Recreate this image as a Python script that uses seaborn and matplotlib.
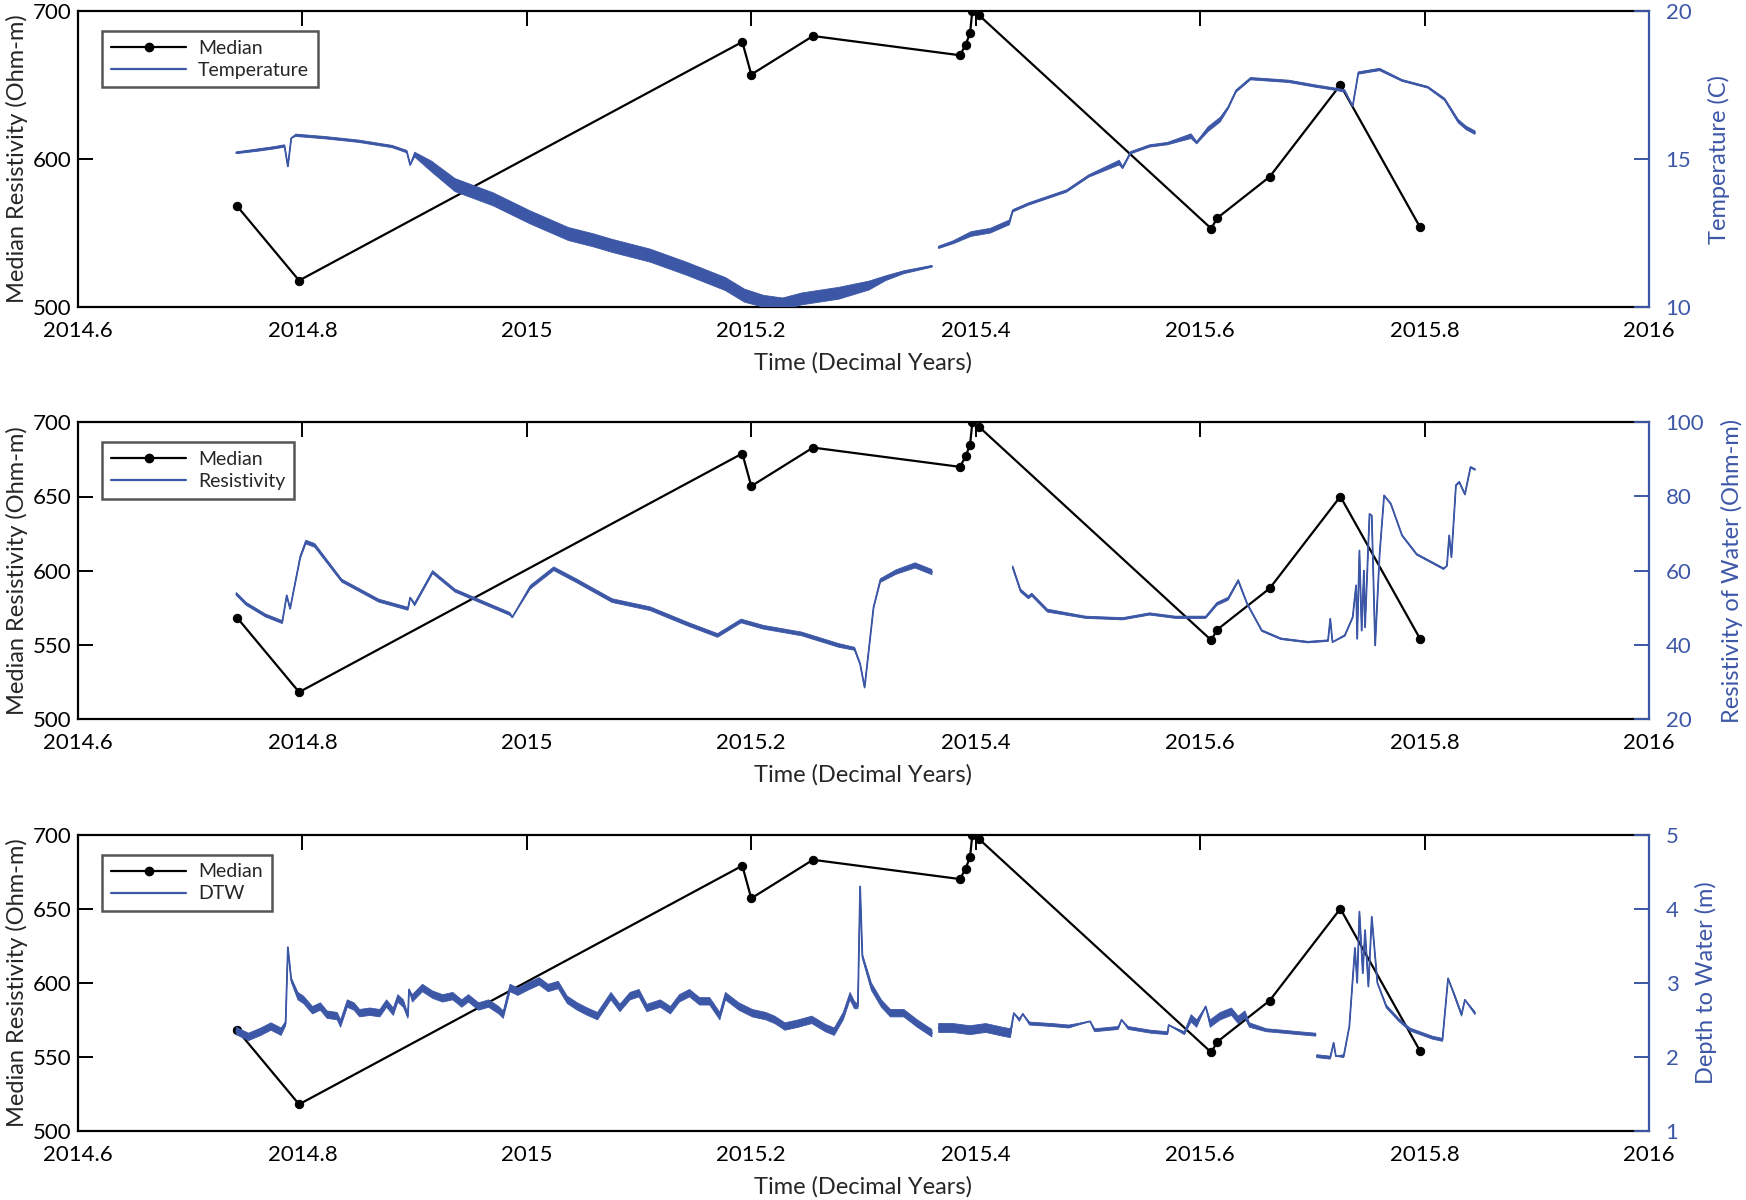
import numpy as np
import matplotlib
matplotlib.use("Agg")
import matplotlib.pyplot as plt
import seaborn as sns
from matplotlib.lines import Line2D

# Median resistivity (shared by all three panels)
med_t = [2014.742, 2014.797, 2015.192, 2015.200, 2015.255, 2015.386, 2015.391,
         2015.395, 2015.397, 2015.403, 2015.610, 2015.615, 2015.662, 2015.725, 2015.796]
med_r = [568, 518, 679, 657, 683, 670, 677, 685, 700, 697, 553, 560, 588, 650, 554]

nan = np.nan

# Temperature (C): x, value, half-width of the noise band
temp_x = [2014.741, 2014.760, 2014.775, 2014.784, 2014.787, 2014.790, 2014.794, 2014.820,
          2014.850, 2014.880, 2014.893, 2014.896, 2014.900, 2014.915, 2014.936, 2014.970,
          2015.003, 2015.037, 2015.060, 2015.076, 2015.110, 2015.143, 2015.177, 2015.194,
          2015.211, 2015.228, 2015.245, 2015.278, 2015.305, 2015.320, 2015.336, 2015.361,
          nan,
          2015.367, 2015.380, 2015.396, 2015.413, 2015.430, 2015.433, 2015.447, 2015.481,
          2015.501, 2015.528, 2015.531, 2015.538, 2015.555, 2015.571, 2015.592, 2015.597,
          2015.607, 2015.618, 2015.625, 2015.632, 2015.645, 2015.679, 2015.703, 2015.723,
          2015.729, 2015.736, 2015.741, 2015.760, 2015.780, 2015.803, 2015.818, 2015.830,
          2015.837, 2015.845]
temp_y = [15.21, 15.30, 15.38, 15.44, 14.75, 15.70, 15.80, 15.72,
          15.60, 15.42, 15.25, 14.80, 15.15, 14.75, 14.12, 13.64,
          13.03, 12.47, 12.25, 12.07, 11.74, 11.29, 10.78, 10.39,
          10.20, 10.11, 10.28, 10.47, 10.73, 10.98, 11.18, 11.38,
          nan,
          12.02, 12.19, 12.47, 12.58, 12.86, 13.25, 13.48, 13.92,
          14.43, 14.88, 14.71, 15.21, 15.44, 15.52, 15.77, 15.55,
          16.00, 16.33, 16.73, 17.29, 17.71, 17.62, 17.46, 17.34,
          17.29, 16.78, 17.90, 18.02, 17.65, 17.42, 17.01, 16.28,
          16.05, 15.89]
temp_s = [0.03, 0.04, 0.04, 0.04, 0, 0, 0.04, 0.04,
          0.04, 0.04, 0.04, 0, 0.08, 0.18, 0.22, 0.22,
          0.22, 0.22, 0.22, 0.22, 0.22, 0.22, 0.22, 0.22,
          0.2, 0.2, 0.2, 0.2, 0.15, 0.08, 0.05, 0.03,
          nan,
          0.04, 0.05, 0.08, 0.08, 0.08, 0.04, 0.04, 0.04,
          0.04, 0.08, 0.04, 0.04, 0.04, 0.04, 0.08, 0.04,
          0.08, 0.08, 0.04, 0.04, 0.04, 0.04, 0.04, 0.04,
          0.04, 0, 0.04, 0.04, 0.03, 0.03, 0.04, 0.06,
          0.06, 0.06]

# Resistivity of water (Ohm-m)
res_x = [2014.741, 2014.750, 2014.767, 2014.782, 2014.786, 2014.789, 2014.798, 2014.803,
         2014.811, 2014.835, 2014.868, 2014.894, 2014.896, 2014.900, 2014.916, 2014.936,
         2014.953, 2014.985, 2014.987, 2015.003, 2015.024, 2015.044, 2015.076, 2015.110,
         2015.143, 2015.170, 2015.191, 2015.211, 2015.245, 2015.278, 2015.292, 2015.297,
         2015.301, 2015.309, 2015.315, 2015.329, 2015.346, 2015.361,
         nan,
         2015.433, 2015.440, 2015.447, 2015.450, 2015.464, 2015.498, 2015.531, 2015.555,
         2015.578, 2015.605, 2015.615, 2015.625, 2015.634, 2015.642, 2015.655, 2015.672,
         2015.696, 2015.714, 2015.716, 2015.718, 2015.729, 2015.736, 2015.739, 2015.740,
         2015.742, 2015.744, 2015.746, 2015.747, 2015.751, 2015.753, 2015.756, 2015.760,
         2015.764, 2015.770, 2015.780, 2015.793, 2015.817, 2015.820, 2015.822, 2015.824,
         2015.828, 2015.831, 2015.836, 2015.841, 2015.845]
res_y = [53.7, 51.0, 47.9, 46.1, 53.3, 49.7, 63.6, 67.7,
         66.8, 57.3, 51.9, 49.7, 52.7, 50.9, 59.6, 54.6,
         52.4, 48.3, 47.4, 55.5, 60.5, 57.3, 51.9, 49.7,
         45.6, 42.5, 46.4, 44.7, 42.9, 39.8, 38.9, 34.8,
         28.5, 50.1, 57.3, 59.6, 61.4, 59.6,
         nan,
         60.9, 54.6, 52.8, 53.5, 49.2, 47.4, 47.0, 48.3,
         47.4, 47.4, 51.0, 52.4, 57.3, 51.0, 43.8, 41.6,
         40.7, 41.1, 47.0, 40.7, 42.5, 47.4, 56.0, 41.6,
         65.4, 43.8, 60.0, 44.7, 75.3, 74.8, 39.8, 64.5,
         80.3, 78.0, 69.5, 64.4, 60.5, 61.3, 69.5, 63.6,
         83.0, 83.9, 80.6, 87.9, 87.3]
res_s = [0.4, 0.4, 0.4, 0.4, 0, 0, 0.4, 0.5,
         0.5, 0.4, 0.4, 0.4, 0, 0.4, 0.4, 0.4,
         0.4, 0.4, 0, 0.5, 0.5, 0.5, 0.5, 0.5,
         0.5, 0.5, 0.5, 0.5, 0.5, 0.5, 0.4, 0.2,
         0.2, 0.2, 0.5, 0.6, 0.7, 0.7,
         nan,
         0.4, 0.4, 0.4, 0.4, 0.4, 0.3, 0.3, 0.3,
         0.3, 0.3, 0.4, 0.4, 0.3, 0.2, 0.2, 0.2,
         0.2, 0.2, 0, 0, 0.2, 0.2, 0, 0,
         0, 0, 0, 0, 0, 0, 0, 0,
         0, 0.2, 0.2, 0.2, 0.2, 0, 0, 0,
         0.2, 0.2, 0.2, 0.2, 0.2]

# Depth to water (m)
dtw_x = [2014.741, 2014.752, 2014.763, 2014.772, 2014.781, 2014.785, 2014.787, 2014.790,
         2014.796, 2014.801, 2014.809, 2014.816, 2014.822, 2014.831, 2014.834, 2014.840,
         2014.846, 2014.851, 2014.860, 2014.869, 2014.875, 2014.881, 2014.885, 2014.890,
         2014.894, 2014.895, 2014.898, 2014.907, 2014.916, 2014.925, 2014.934, 2014.942,
         2014.948, 2014.957, 2014.966, 2014.975, 2014.979, 2014.985, 2014.992, 2015.001,
         2015.011, 2015.019, 2015.028, 2015.036, 2015.045, 2015.054, 2015.063, 2015.075,
         2015.083, 2015.092, 2015.100, 2015.107, 2015.119, 2015.128, 2015.136, 2015.145,
         2015.154, 2015.163, 2015.172, 2015.177, 2015.189, 2015.201, 2015.213, 2015.221,
         2015.230, 2015.242, 2015.254, 2015.266, 2015.274, 2015.282, 2015.288, 2015.292,
         2015.295, 2015.297, 2015.299, 2015.307, 2015.316, 2015.324, 2015.336, 2015.348,
         2015.357, 2015.361,
         nan,
         2015.367, 2015.380, 2015.395, 2015.409, 2015.424, 2015.431, 2015.434, 2015.439,
         2015.442, 2015.448, 2015.468, 2015.483, 2015.502, 2015.506, 2015.527, 2015.530,
         2015.536, 2015.556, 2015.571, 2015.572, 2015.586, 2015.592, 2015.597, 2015.605,
         2015.609, 2015.618, 2015.628, 2015.634, 2015.640, 2015.644, 2015.659, 2015.674,
         2015.688, 2015.703,
         nan,
         2015.704, 2015.716, 2015.719, 2015.721, 2015.728, 2015.733, 2015.738, 2015.740,
         2015.742, 2015.745, 2015.747, 2015.750, 2015.753, 2015.758, 2015.766, 2015.777,
         2015.787, 2015.807, 2015.816, 2015.821, 2015.827, 2015.833, 2015.836, 2015.845]
dtw_y = [2.35, 2.27, 2.34, 2.41, 2.34, 2.45, 3.48, 3.04,
         2.82, 2.77, 2.63, 2.68, 2.57, 2.55, 2.45, 2.72,
         2.68, 2.59, 2.61, 2.59, 2.72, 2.61, 2.79, 2.72,
         2.55, 2.91, 2.79, 2.93, 2.84, 2.79, 2.82, 2.72,
         2.79, 2.68, 2.72, 2.63, 2.57, 2.93, 2.88, 2.95,
         3.02, 2.93, 2.97, 2.77, 2.68, 2.61, 2.55, 2.82,
         2.66, 2.82, 2.86, 2.66, 2.72, 2.63, 2.79, 2.86,
         2.75, 2.75, 2.55, 2.82, 2.68, 2.59, 2.55, 2.50,
         2.41, 2.45, 2.50, 2.39, 2.34, 2.55, 2.82, 2.70,
         2.68, 4.30, 3.36, 2.95, 2.72, 2.59, 2.59, 2.45,
         2.36, 2.32,
         nan,
         2.39, 2.39, 2.36, 2.39, 2.34, 2.32, 2.59, 2.50,
         2.58, 2.45, 2.43, 2.41, 2.48, 2.36, 2.39, 2.50,
         2.39, 2.34, 2.32, 2.43, 2.32, 2.52, 2.45, 2.68,
         2.45, 2.55, 2.61, 2.50, 2.57, 2.43, 2.36, 2.34,
         2.32, 2.30,
         nan,
         2.01, 1.99, 2.19, 2.01, 2.01, 2.41, 3.47, 3.00,
         3.96, 3.13, 3.71, 2.95, 3.89, 3.00, 2.68, 2.50,
         2.37, 2.26, 2.23, 3.06, 2.82, 2.57, 2.77, 2.59]
dtw_s = [0.05, 0.05, 0.05, 0.05, 0.05, 0.03, 0, 0.03,
         0.05, 0.05, 0.05, 0.05, 0.05, 0.05, 0.05, 0.05,
         0.05, 0.05, 0.05, 0.05, 0.05, 0.05, 0.05, 0.05,
         0.03, 0, 0.05, 0.05, 0.05, 0.05, 0.05, 0.05,
         0.05, 0.05, 0.05, 0.05, 0.05, 0.05, 0.05, 0.05,
         0.05, 0.05, 0.05, 0.05, 0.05, 0.05, 0.05, 0.05,
         0.05, 0.05, 0.05, 0.05, 0.05, 0.05, 0.05, 0.05,
         0.05, 0.05, 0.05, 0.05, 0.05, 0.05, 0.05, 0.05,
         0.05, 0.05, 0.05, 0.05, 0.05, 0.05, 0.05, 0.05,
         0.03, 0, 0.03, 0.05, 0.05, 0.05, 0.05, 0.05,
         0.05, 0.05,
         nan,
         0.06, 0.06, 0.06, 0.06, 0.06, 0.06, 0, 0.02,
         0, 0.02, 0.02, 0.02, 0, 0.02, 0.02, 0,
         0.02, 0.02, 0.02, 0, 0.02, 0.05, 0.05, 0,
         0.05, 0.05, 0.05, 0.05, 0.05, 0.03, 0.02, 0.02,
         0.02, 0.02,
         nan,
         0.02, 0.02, 0, 0, 0.02, 0, 0, 0,
         0, 0, 0, 0, 0, 0, 0.02, 0.02,
         0.02, 0.02, 0.02, 0, 0.02, 0.02, 0, 0.02]

x_ticks = [2014.6, 2014.8, 2015.0, 2015.2, 2015.4, 2015.6, 2015.8, 2016.0]
x_labels = ["2014.6", "2014.8", "2015", "2015.2", "2015.4", "2015.6", "2015.8", "2016"]

panels = [
    dict(x=temp_x, y=temp_y, s=temp_s, name="Temperature", ylabel="Temperature (C)",
         lim=(10, 20), ticks=[10, 15, 20], lticks=[500, 600, 700]),
    dict(x=res_x, y=res_y, s=res_s, name="Resistivity", ylabel="Resistivity of Water (Ohm-m)",
         lim=(20, 100), ticks=[20, 40, 60, 80, 100], lticks=[500, 550, 600, 650, 700]),
    dict(x=dtw_x, y=dtw_y, s=dtw_s, name="DTW", ylabel="Depth to Water (m)",
         lim=(1, 5), ticks=[1, 2, 3, 4, 5], lticks=[500, 550, 600, 650, 700]),
]

BLUE = "#3d57a7"

sns.set_style("white")
plt.rcParams["font.family"] = ["Lato", "DejaVu Sans"]

fig = plt.figure(figsize=(17.46, 12), dpi=100)
bottoms = [0.744, 0.401, 0.0575]

for p, b in zip(panels, bottoms):
    ax = fig.add_axes([0.0447, b, 0.8997, 0.247])
    ax2 = ax.twinx()

    # blue series, drawn segment by segment (gaps are NaN)
    x = np.array(p["x"])
    y = np.array(p["y"])
    s = np.array(p["s"])
    ax2.fill_between(x, y - s, y + s, color=BLUE, lw=0.6, edgecolor=BLUE)
    cuts = np.where(np.isnan(x))[0]
    starts = np.r_[0, cuts + 1]
    ends = np.r_[cuts, len(x)]
    for i0, i1 in zip(starts, ends):
        sns.lineplot(x=x[i0:i1], y=y[i0:i1], ax=ax2, color=BLUE, lw=1.3,
                     sort=False, estimator=None)

    # median resistivity
    sns.lineplot(x=med_t, y=med_r, ax=ax, color="black", lw=1.6, marker="o",
                 markersize=6, markeredgecolor="black", sort=False, estimator=None)

    ax.set_xlim(2014.6, 2016)
    ax.set_ylim(500, 700)
    ax.set_xticks(x_ticks)
    ax.set_xticklabels(x_labels)
    ax.set_yticks(p["lticks"])
    ax2.set_ylim(*p["lim"])
    ax2.set_yticks(p["ticks"])

    ax.tick_params(axis="x", direction="in", length=11, width=1.4, top=True,
                   labelsize=16, pad=10, colors="black")
    ax.tick_params(axis="y", direction="in", length=11, width=1.4, labelsize=16,
                   pad=5, colors="black")
    ax2.tick_params(axis="y", direction="in", length=11, width=1.4, labelsize=16,
                    pad=12, colors=BLUE)

    for side in ["left", "top", "bottom"]:
        ax.spines[side].set_linewidth(1.6)
        ax.spines[side].set_color("black")
        ax2.spines[side].set_visible(False)
    ax.spines["right"].set_visible(False)
    ax2.spines["right"].set_color(BLUE)
    ax2.spines["right"].set_linewidth(1.6)

    ax.set_xlabel("Time (Decimal Years)", fontsize=17, labelpad=8)
    ax.set_ylabel("Median Resistivity (Ohm-m)", fontsize=17, labelpad=3)
    ax2.set_ylabel(p["ylabel"], fontsize=17, color=BLUE, labelpad=12)

    handles = [Line2D([], [], color="black", lw=1.6, marker="o", markersize=6),
               Line2D([], [], color=BLUE, lw=1.6)]
    leg = ax2.legend(handles, ["Median", p["name"]], loc="upper left",
                     bbox_to_anchor=(0.009, 0.965), fontsize=14, frameon=True,
                     fancybox=False, framealpha=1, edgecolor="#555555",
                     handlelength=3.9, borderpad=0.45, labelspacing=0.25,
                     handletextpad=0.6)
    leg.get_frame().set_linewidth(1.8)

fig.savefig("out.png", dpi=100)
